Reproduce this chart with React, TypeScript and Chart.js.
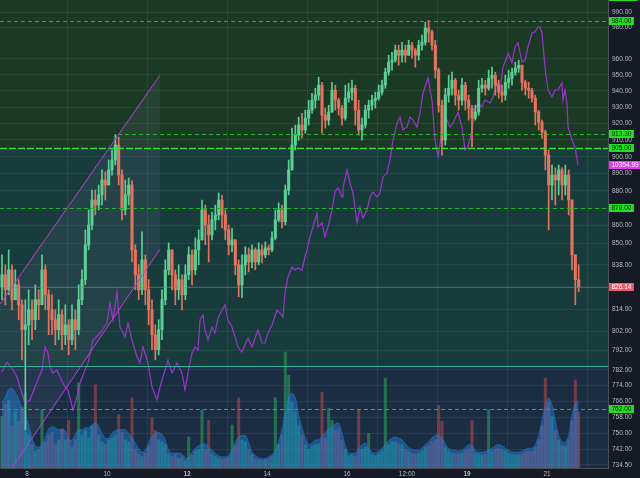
import React, { useEffect, useRef } from "react";
import { Chart, registerables } from "chart.js";

Chart.register(...registerables);

// ---------- data ----------
const FIRST_CANDLE_DAY = 7.3333; // Feb 7, 08:00
const CANDLE_HOURS = 2;
const FIRST_OPEN = 826.0;

const closes = [
  832.6, 824.4, 835.3, 819.0, 827.1, 816.3, 803.0, 805.6, 813.6, 808.3,
  819.0, 816.3, 835.3, 821.7, 813.6, 808.3, 803.0, 811.0, 800.3, 805.6,
  797.7, 808.3, 803.0, 819.0, 829.9, 849.2, 860.4, 874.7, 871.8, 877.6,
  886.3, 883.4, 892.2, 898.1, 907.0, 889.2, 869.0, 877.6, 883.4, 846.4,
  832.6, 824.4, 840.8, 824.4, 813.6, 800.3, 792.5, 803.0, 819.0, 835.3,
  846.4, 832.6, 824.4, 829.9, 821.7, 832.6, 843.6, 835.3, 846.4, 852.0,
  869.0, 860.4, 854.8, 863.3, 866.1, 874.7, 866.1, 857.6, 849.2, 852.0,
  838.1, 827.1, 838.1, 843.6, 839.7, 846.4, 839.7, 846.4, 843.6, 847.5,
  846.4, 853.1, 863.3, 869.0, 862.2, 880.5, 892.2, 907.0, 912.9, 919.0,
  916.0, 923.2, 928.1, 934.2, 937.3, 943.5, 925.0, 922.0, 926.9, 940.4,
  934.2, 929.3, 923.2, 935.4, 939.2, 941.6, 928.1, 916.0, 919.0, 928.1,
  931.1, 934.2, 935.4, 939.2, 943.5, 951.6, 957.9, 959.2, 965.5, 962.3,
  965.5, 962.3, 968.7, 965.5, 962.3, 968.7, 970.6, 979.7, 977.1, 968.7,
  952.9, 931.1, 909.9, 937.3, 941.6, 946.6, 937.3, 934.2, 943.5, 934.2,
  929.3, 923.2, 926.9, 941.6, 943.5, 941.6, 947.8, 949.7, 943.5, 939.2,
  937.3, 945.3, 947.8, 951.6, 954.2, 956.0, 945.3, 941.6, 940.4, 935.4,
  926.9, 920.8, 914.8, 901.0, 883.4, 889.2, 886.3, 892.2, 883.4, 889.2,
  874.7, 843.6, 829.9, 826.14,
];

const highs = [
  843.6, 838.1, 846.4, 838.1, 835.3, 829.9, 819.0, 819.0, 824.4, 819.0,
  827.1, 824.4, 843.6, 838.1, 824.4, 821.7, 813.6, 819.0, 813.6, 816.3,
  808.3, 816.3, 813.6, 827.1, 835.3, 857.6, 869.0, 880.5, 880.5, 883.4,
  892.2, 891.0, 898.1, 904.0, 913.3, 911.7, 892.2, 886.3, 887.5, 886.0,
  849.2, 838.1, 856.5, 843.6, 829.9, 819.0, 805.6, 808.3, 824.4, 840.8,
  850.3, 846.4, 835.3, 838.1, 832.6, 838.1, 848.1, 846.4, 853.1, 857.6,
  874.7, 871.8, 866.1, 867.8, 871.8, 878.8, 877.6, 869.0, 860.4, 858.7,
  852.0, 840.8, 843.6, 848.1, 847.5, 849.2, 847.5, 850.3, 849.2, 850.9,
  849.2, 856.5, 869.0, 873.0, 871.8, 883.4, 898.1, 917.2, 919.0, 923.8,
  926.2, 928.1, 934.2, 938.5, 941.6, 948.5, 945.3, 929.3, 931.1, 945.3,
  943.5, 935.4, 931.1, 943.5, 944.7, 946.6, 943.5, 934.2, 923.2, 931.1,
  934.2, 937.3, 939.2, 943.5, 946.6, 954.2, 962.3, 964.2, 968.7, 968.7,
  970.6, 968.7, 971.9, 970.6, 966.8, 971.9, 975.1, 983.5, 984.8, 978.4,
  971.9, 954.2, 934.2, 941.6, 949.7, 951.6, 947.8, 940.4, 947.8, 945.3,
  937.3, 931.1, 931.1, 946.6, 947.8, 946.6, 952.9, 954.8, 951.6, 946.6,
  943.5, 949.7, 952.9, 954.2, 957.9, 959.2, 956.0, 946.6, 945.3, 941.6,
  937.3, 928.1, 922.0, 916.0, 904.0, 895.1, 893.4, 895.1, 893.4, 895.1,
  892.2, 874.7, 843.6, 838.1,
];

const lows = [
  819.0, 816.3, 821.7, 813.6, 819.0, 808.3, 787.2, 751.8, 795.1, 797.7,
  803.0, 808.3, 816.3, 813.6, 800.3, 800.3, 795.1, 797.7, 792.5, 795.1,
  789.8, 795.1, 792.5, 800.3, 816.3, 827.1, 846.4, 857.6, 866.1, 869.0,
  871.8, 874.7, 883.4, 889.2, 895.1, 883.4, 863.3, 866.1, 871.8, 839.7,
  824.4, 819.0, 821.7, 816.3, 805.6, 792.5, 787.2, 789.8, 797.7, 816.3,
  832.6, 824.4, 816.3, 819.0, 813.6, 819.0, 829.9, 827.1, 832.6, 838.1,
  852.0, 849.2, 839.7, 852.0, 857.6, 863.3, 858.7, 852.0, 843.6, 845.3,
  832.6, 820.6, 820.1, 832.6, 834.2, 836.4, 835.3, 838.1, 839.2, 842.0,
  843.6, 845.3, 852.0, 862.2, 858.7, 860.4, 877.6, 892.2, 904.0, 909.9,
  911.1, 914.1, 919.0, 926.2, 929.3, 934.2, 914.1, 917.2, 919.0, 931.1,
  928.1, 925.0, 919.0, 922.0, 933.0, 934.2, 919.0, 912.9, 909.9, 917.2,
  923.2, 928.1, 929.3, 934.2, 937.3, 941.6, 949.7, 952.9, 957.9, 956.0,
  957.9, 957.9, 962.3, 960.4, 954.7, 959.2, 965.5, 968.7, 970.6, 965.5,
  947.8, 926.9, 901.0, 907.0, 933.0, 937.3, 931.1, 928.1, 931.1, 928.1,
  922.0, 905.8, 922.0, 925.0, 939.2, 937.3, 940.4, 941.6, 937.3, 935.4,
  933.0, 934.2, 941.6, 943.5, 949.7, 951.6, 940.4, 937.3, 935.4, 933.0,
  919.0, 916.0, 911.1, 892.2, 857.6, 874.7, 871.8, 877.6, 874.7, 877.6,
  866.1, 835.3, 816.3, 823.3,
];

const volumes = [
  5.5, 6.8, 7.2, 4.5, 6.0, 5.0, 6.5, 8.0, 3.5, 2.5,
  1.8, 2.0, 6.2, 2.8, 3.5, 3.8, 2.5, 3.0, 4.2, 3.0,
  5.1, 2.2, 3.0, 9.1, 3.5, 4.0, 3.2, 4.5, 8.9, 3.5,
  2.8, 2.5, 3.0, 3.2, 3.5, 5.7, 3.8, 3.0, 2.8, 7.5,
  2.0, 1.5, 1.2, 1.6, 2.4, 5.4, 4.0, 3.0, 2.8, 2.5,
  1.5, 1.2, 1.4, 1.0, 1.2, 0.8, 3.3, 1.4, 1.8, 2.0,
  6.2, 2.0, 5.1, 1.5, 1.2, 1.0, 0.9, 1.0, 1.1, 4.6,
  2.4, 7.5, 3.0, 2.8, 2.0, 1.5, 1.0, 0.9, 0.8, 0.9,
  1.0, 1.2, 7.5, 2.5, 3.5, 12.4, 9.9, 7.0, 6.0, 4.5,
  3.5, 2.5, 2.0, 2.3, 2.5, 2.6, 8.1, 3.2, 6.4, 5.1,
  4.0, 4.2, 3.0, 2.0, 1.3, 1.4, 1.2, 6.2, 2.0, 2.2,
  3.7, 1.4, 1.3, 1.5, 1.8, 9.6, 2.5, 2.8, 2.8, 2.6,
  2.5, 2.0, 1.8, 1.6, 1.5, 1.6, 1.8, 2.2, 2.4, 2.8,
  3.0, 6.7, 5.0, 2.2, 1.8, 1.6, 1.5, 1.5, 1.6, 1.9,
  2.0, 5.1, 1.6, 1.5, 1.4, 1.5, 6.2, 1.8, 2.0, 2.1,
  2.0, 1.8, 1.6, 1.5, 1.4, 1.4, 1.5, 1.7, 1.8, 1.8,
  2.2, 3.0, 4.5, 9.6, 7.0, 5.5, 4.0, 3.0, 2.4, 2.3,
  3.0, 5.0, 9.4, 6.0,
];

const volumeAvg = [
  7.0, 7.6, 8.4, 8.5, 8.1, 7.3, 6.4, 5.6, 4.6, 3.2,
  2.4, 2.2, 2.6, 3.2, 4.2, 4.4, 4.3, 4.1, 4.1, 4.0,
  3.0, 3.0, 3.6, 4.1, 4.1, 4.3, 4.3, 4.6, 4.8, 4.5,
  3.7, 3.2, 3.2, 3.7, 4.0, 4.1, 4.1, 4.1, 3.7, 3.2,
  2.7, 2.1, 1.7, 1.9, 2.7, 3.4, 3.7, 3.8, 3.6, 3.0,
  1.9, 1.6, 1.6, 1.6, 1.5, 1.1, 1.1, 1.7, 2.1, 2.4,
  2.5, 2.6, 2.2, 1.9, 1.6, 1.3, 1.2, 1.2, 1.3, 1.9,
  2.8, 3.3, 3.5, 3.5, 2.7, 1.7, 1.3, 1.1, 1.0, 1.0,
  1.2, 1.4, 1.9, 2.8, 4.1, 6.0, 7.6, 8.0, 7.5, 5.7,
  4.3, 3.2, 2.5, 2.7, 3.0, 3.0, 3.4, 3.8, 4.2, 4.4,
  4.7, 4.8, 3.8, 2.4, 1.6, 1.6, 1.6, 2.1, 2.5, 2.7,
  2.1, 1.7, 1.6, 1.8, 2.1, 2.5, 2.9, 3.2, 3.3, 3.2,
  3.0, 2.6, 2.2, 2.0, 1.9, 1.9, 2.1, 2.5, 2.8, 3.2,
  3.5, 3.5, 3.2, 2.6, 2.1, 1.9, 1.9, 1.8, 1.9, 2.2,
  2.5, 2.4, 1.9, 1.7, 1.7, 1.8, 1.9, 2.1, 2.4, 2.5,
  2.4, 2.1, 1.9, 1.7, 1.7, 1.7, 1.8, 2.0, 2.1, 2.1,
  2.5, 3.5, 5.1, 6.7, 7.5, 6.7, 5.1, 3.5, 2.8, 2.7,
  3.5, 5.7, 6.9, 7.3,
];

// comparison symbol (purple line)
const compareDays = [
  7.367, 7.5, 7.65, 7.75, 7.825, 7.95, 8.075, 8.15, 8.25, 8.375,
  8.45, 8.525, 8.575, 8.65, 8.75, 8.825, 8.95, 9.025, 9.15, 9.25,
  9.325, 9.45, 9.525, 9.65, 9.825, 10.0, 10.075, 10.15, 10.25, 10.325,
  10.45, 10.525, 10.625, 10.75, 10.825, 10.9, 11.025, 11.125, 11.25, 11.325,
  11.45, 11.525, 11.625, 11.75, 11.875, 11.95, 12.025, 12.125, 12.2, 12.275,
  12.325, 12.4, 12.45, 12.525, 12.625, 12.7, 12.775, 12.875, 12.95, 13.025,
  13.125, 13.2, 13.275, 13.375, 13.45, 13.525, 13.625, 13.7, 13.775, 13.875,
  13.95, 14.025, 14.125, 14.25, 14.325, 14.4, 14.45, 14.525, 14.625, 14.7,
  14.775, 14.875, 14.95, 15.0, 15.075, 15.15, 15.25, 15.275, 15.375, 15.45,
  15.525, 15.625, 15.7, 15.775, 15.875, 15.9, 16.0, 16.075, 16.15, 16.25,
  16.325, 16.4, 16.5, 16.575, 16.65, 16.75, 16.825, 16.9, 17.0, 17.075,
  17.15, 17.25, 17.325, 17.4, 17.5, 17.575, 17.65, 17.75, 17.825, 17.9,
  18.025, 18.125, 18.2, 18.275, 18.4, 18.5, 18.575, 18.65, 18.775, 18.875,
  18.95, 19.025, 19.125, 19.2, 19.275, 19.375, 19.45, 19.575, 19.65, 19.75,
  19.825, 19.9, 20.0, 20.025, 20.125, 20.2, 20.275, 20.375, 20.45, 20.525,
  20.625, 20.7, 20.775, 20.825, 20.875, 20.95, 21.025, 21.125, 21.2, 21.275,
  21.375, 21.4, 21.45, 21.5, 21.525, 21.625, 21.7, 21.775,
];
const compareValues = [
  8285, 8385, 8305, 8235, 8135, 7975, 8005, 8085, 8185, 8305,
  8535, 8475, 8335, 8275, 8305, 8235, 8135, 8105, 7905, 8035,
  8175, 8305, 8375, 8605, 8675, 8775, 8975, 8805, 9085, 8735,
  8635, 8775, 8605, 8435, 8375, 8535, 8375, 8135, 8005, 8135,
  8305, 8405, 8275, 8375, 8275, 8105, 8275, 8475, 8535, 8505,
  8805, 8855, 8705, 8605, 8735, 8675, 8825, 8905, 8955, 8805,
  8735, 8635, 8535, 8485, 8555, 8625, 8535, 8625, 8705, 8575,
  8575, 8675, 8755, 8905, 8875, 8835, 9075, 9235, 9335, 9305,
  9325, 9305, 9435, 9505, 9635, 9735, 9875, 9735, 9775, 9635,
  9735, 9905, 10085, 10125, 10035, 10125, 10305, 10175, 10075, 9775,
  9935, 9825, 9905, 10035, 10085, 10035, 10075, 10235, 10275, 10405,
  10605, 10775, 10835, 10705, 10735, 10835, 10805, 10735, 10875, 11075,
  11225, 11005, 10605, 10435, 10735, 10805, 10735, 10775, 10885, 10735,
  10505, 10535, 10705, 10905, 10975, 10935, 11005, 10975, 11035, 11175,
  11105, 11335, 11435, 11475, 11375, 11535, 11575, 11385, 11405, 11535,
  11675, 11685, 11735, 11735, 11675, 11335, 11105, 11035, 11105, 11105,
  11175, 11005, 11105, 10975, 10735, 10605, 10535, 10354.99,
];

const priceTicks = [
  990, 980, 960, 950, 940, 930, 920, 910, 900, 890, 880, 870, 860, 850, 838,
  826, 814, 802, 792, 782, 774, 766, 758, 750, 742, 734.5,
];
const dayTicks = [8, 10, 12, 14, 16, 17.5, 19, 21];
const dayLabels = ["8", "10", "12", "14", "16", "12:00", "19", "21"];
const boldDayLabels = ["12", "19"];

// drawing levels (price)
const dashedLevels = [984, 870, 762];
const resistanceLevel = 913.3;
const resistanceStartDay = 10.275;
const mainLevel = 905;
const zoneLevel = 784;
const axisMarkerLevels = [1000, 984, 913.3, 905, 870, 762];

// trend channel (day, price)
const channelUpper = [
  [7.325, 816.7],
  [11.325, 949.7],
];
const channelLower = [
  [7.625, 733],
  [11.325, 846.8],
];

// ---------- derived ----------
const candleTimes = closes.map(
  (_, i) => FIRST_CANDLE_DAY + ((i + 0.5) * CANDLE_HOURS) / 24
);
const opens = closes.map((c, i) => (i === 0 ? FIRST_OPEN : closes[i - 1]));
const isUp = closes.map((c, i) => c >= opens[i]);

const UP = "#5ccf95";
const DOWN = "#e5745f";
const FONT = "'Liberation Sans', 'DejaVu Sans', sans-serif";

const overlayPlugin = {
  id: "overlay",
  beforeDraw(chart: any) {
    const { ctx, chartArea: a, scales } = chart;
    const y = scales.y;
    ctx.save();
    ctx.fillStyle = "#151a24";
    ctx.fillRect(0, 0, chart.width, chart.height);
    const yMain = y.getPixelForValue(mainLevel);
    const yZone = y.getPixelForValue(zoneLevel);
    ctx.fillStyle = "#1b3a25";
    ctx.fillRect(a.left, a.top, a.width, yMain - a.top);
    ctx.fillStyle = "#183b3b";
    ctx.fillRect(a.left, yMain, a.width, yZone - yMain);
    ctx.fillStyle = "#1a2d42";
    ctx.fillRect(a.left, yZone, a.width, a.bottom - yZone);
    ctx.restore();
  },
  beforeDatasetsDraw(chart: any) {
    const { ctx, chartArea: a, scales } = chart;
    const x = scales.x, y = scales.y;
    const px = (p: number[]) => [x.getPixelForValue(p[0]), y.getPixelForValue(p[1])];
    ctx.save();
    ctx.beginPath();
    ctx.rect(a.left, a.top, a.width, a.height);
    ctx.clip();
    const u0 = px(channelUpper[0]), u1 = px(channelUpper[1]);
    const l0 = px(channelLower[0]), l1 = px(channelLower[1]);
    const bl = px([channelUpper[0][0], channelLower[0][1]]);
    ctx.beginPath();
    ctx.moveTo(u0[0], u0[1]);
    ctx.lineTo(u1[0], u1[1]);
    ctx.lineTo(l1[0], l1[1]);
    ctx.lineTo(l0[0], l0[1]);
    ctx.lineTo(bl[0], bl[1]);
    ctx.closePath();
    ctx.fillStyle = "rgba(125,140,185,0.11)";
    ctx.fill();
    ctx.restore();
  },
  afterDatasetsDraw(chart: any) {
    const { ctx, chartArea: a, scales } = chart;
    const x = scales.x, y = scales.y;
    ctx.save();
    ctx.beginPath();
    ctx.rect(a.left, a.top, a.width, a.height);
    ctx.clip();
    const hline = (price: number, x0: number, color: string, w: number, dash: number[]) => {
      const py = Math.round(y.getPixelForValue(price)) + 0.5;
      ctx.beginPath();
      ctx.strokeStyle = color;
      ctx.lineWidth = w;
      ctx.setLineDash(dash);
      ctx.moveTo(x0, py);
      ctx.lineTo(a.right, py);
      ctx.stroke();
    };
    hline(closes[closes.length - 1], a.left, "rgba(225,95,95,0.5)", 1, []);
    hline(zoneLevel, a.left, "#2bb5a0", 1, []);
    dashedLevels.forEach((p) => hline(p, a.left, "#22b822", 1, [4, 3]));
    hline(resistanceLevel, x.getPixelForValue(resistanceStartDay), "#22b822", 1, [4, 3]);
    hline(mainLevel, a.left, "#35e035", 1.4, [7, 2]);
    ctx.setLineDash([]);
    ctx.strokeStyle = "#c23cd8";
    ctx.lineWidth = 1;
    [channelUpper, channelLower].forEach((ln) => {
      ctx.beginPath();
      ctx.moveTo(x.getPixelForValue(ln[0][0]), y.getPixelForValue(ln[0][1]));
      ctx.lineTo(x.getPixelForValue(ln[1][0]), y.getPixelForValue(ln[1][1]));
      ctx.stroke();
    });
    ctx.restore();
  },
  afterDraw(chart: any) {
    const { ctx, chartArea: a, scales } = chart;
    const y = scales.y, yp = scales.yp;
    ctx.save();
    ctx.font = `6.5px ${FONT}`;
    ctx.textBaseline = "middle";
    ctx.textAlign = "left";
    const box = (py: number, text: string, bg: string, fg: string) => {
      const w = ctx.measureText(text).width + 5;
      ctx.fillStyle = bg;
      ctx.fillRect(a.right + 1, Math.round(py) - 4, w, 8);
      ctx.fillStyle = fg;
      ctx.fillText(text, a.right + 3.5, Math.round(py) + 0.5);
    };
    axisMarkerLevels.forEach((p) =>
      box(y.getPixelForValue(p), p.toFixed(2), "#22e022", "#0a1a0a")
    );
    const last = compareValues[compareValues.length - 1];
    box(yp.getPixelForValue(last), last.toFixed(2), "#e23cf5", "#ffffff");
    const lastClose = closes[closes.length - 1];
    box(y.getPixelForValue(lastClose), lastClose.toFixed(2), "#ee5a6a", "#ffffff");
    ctx.restore();
  },
};

export default function App() {
  const ref = useRef<HTMLCanvasElement>(null);
  useEffect(() => {
    document.body.style.margin = "0";
    Chart.defaults.font.family = FONT;
    const gridColor = "rgba(255,255,255,0.065)";
    const chart = new Chart(ref.current as HTMLCanvasElement, {
      type: "bar",
      data: {
        datasets: [
          {
            type: "bar",
            label: "bodies",
            data: candleTimes.map((t, i) => ({ x: t, y: [opens[i], closes[i]] })) as any,
            backgroundColor: isUp.map((u) => (u ? UP : DOWN)),
            barThickness: 2.4,
            minBarLength: 1,
            grouped: false,
            yAxisID: "y",
            order: 1,
          } as any,
          {
            type: "bar",
            label: "wicks",
            data: candleTimes.map((t, i) => ({
              x: t,
              y: [Math.min(lows[i], opens[i], closes[i]), Math.max(highs[i], opens[i], closes[i])],
            })) as any,
            backgroundColor: isUp.map((u) => (u ? UP : DOWN)),
            barThickness: 1,
            grouped: false,
            yAxisID: "y",
            order: 2,
          } as any,
          {
            type: "line",
            label: "compare",
            data: compareDays.map((d, i) => ({ x: d, y: compareValues[i] })),
            borderColor: "#9a35cc",
            borderWidth: 1.2,
            pointRadius: 0,
            tension: 0,
            yAxisID: "yp",
            order: 5,
          } as any,
          {
            type: "line",
            label: "volume avg",
            data: candleTimes.map((t, i) => ({ x: t, y: volumeAvg[i] })),
            borderColor: "rgba(40,130,215,0.45)",
            backgroundColor: "rgba(32,128,225,0.48)",
            borderWidth: 1,
            fill: "origin",
            pointRadius: 0,
            tension: 0.3,
            yAxisID: "yv",
            order: 9,
          } as any,
          {
            type: "bar",
            label: "volume",
            data: candleTimes.map((t, i) => ({ x: t, y: volumes[i] })),
            backgroundColor: isUp.map((u) => (u ? "rgba(46,170,95,0.55)" : "rgba(205,75,75,0.5)")),
            barThickness: 2.4,
            grouped: false,
            yAxisID: "yv",
            order: 10,
          } as any,
        ],
      },
      options: {
        responsive: false,
        maintainAspectRatio: false,
        devicePixelRatio: 1,
        animation: false,
        events: [],
        layout: { padding: 0 },
        plugins: { legend: { display: false }, tooltip: { enabled: false } },
        scales: {
          x: {
            type: "linear",
            min: 7.325,
            max: 22.525,
            offset: false,
            afterBuildTicks: (s: any) => {
              s.ticks = dayTicks.map((v) => ({ value: v }));
            },
            afterFit: (s: any) => {
              s.height = 10;
              s.paddingLeft = 0;
              s.paddingRight = 0;
            },
            ticks: {
              autoSkip: false,
              maxRotation: 0,
              padding: 2,
              color: "#b6bac4",
              font: (c: any) => ({
                family: FONT,
                size: 6.5,
                weight: boldDayLabels.includes(dayLabels[c.index]) ? "bold" : "normal",
              }),
              callback: (_v: any, i: number) => dayLabels[i],
            },
            grid: { color: gridColor, drawTicks: false },
            border: { color: "#4b505c" },
          },
          y: {
            type: "logarithmic",
            position: "right",
            min: 733,
            max: 998,
            afterBuildTicks: (s: any) => {
              s.ticks = priceTicks.map((v) => ({ value: v }));
            },
            afterFit: (s: any) => {
              s.width = 32;
              s.paddingTop = 0;
              s.paddingBottom = 0;
            },
            ticks: {
              autoSkip: false,
              padding: 4,
              color: "#b6bac4",
              font: { family: FONT, size: 6.5 },
              callback: (v: any) => Number(v).toFixed(2),
            },
            grid: { color: gridColor, drawTicks: false },
            border: { color: "#4b505c" },
          },
          yv: { type: "linear", display: false, min: 0, max: 50 },
          yp: { type: "linear", display: false, min: 7325, max: 12005 },
        },
      } as any,
      plugins: [overlayPlugin],
    });
    return () => chart.destroy();
  }, []);
  return (
    <div style={{ width: 640, height: 478 }}>
      <canvas ref={ref} width={640} height={478} style={{ display: "block", width: 640, height: 478 }} />
    </div>
  );
}
